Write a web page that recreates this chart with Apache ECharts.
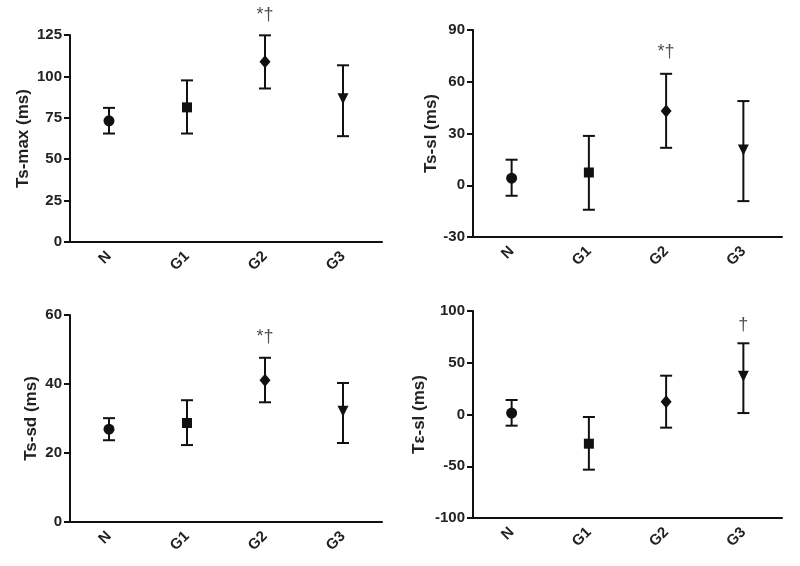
<!DOCTYPE html>
<html>
<head>
<meta charset="utf-8">
<script src="https://cdn.jsdelivr.net/npm/echarts@6/dist/echarts.min.js"></script>
<style>
  html, body { margin: 0; padding: 0; background: #fff; }
  #container { width: 800px; height: 566px; }
</style>
</head>
<body>
<div id="container"></div>
<script>
var categories = ["N", "G1", "G2", "G3"];

// Ts-max
var tsMaxMean = [73.2, 81.3, 108.9, 86.5];
var tsMaxLow = [65.5, 65.5, 92.7, 63.9];
var tsMaxHigh = [81, 97.6, 124.8, 106.7];
// Ts-sl
var tsSlMean = [4.1, 7.4, 43.1, 20.5];
var tsSlLow = [-6.1, -14.2, 21.7, -9.2];
var tsSlHigh = [14.8, 28.6, 64.6, 48.8];
// Ts-sd
var tsSdMean = [26.9, 28.7, 41.1, 32.1];
var tsSdLow = [23.7, 22.3, 34.7, 22.9];
var tsSdHigh = [30.1, 35.3, 47.6, 40.3];
// Tε-sl
var teSlMean = [1.4, -28.2, 12.4, 36.9];
var teSlLow = [-10.8, -53.3, -12.7, 1.4];
var teSlHigh = [14, -2.4, 37.5, 68.8];

// significance marks: [category index, y position, text]
var tsMaxSig = [[2, 137, "*†"]];
var tsSlSig = [[2, 77.4, "*†"]];
var tsSdSig = [[2, 53.7, "*†"]];
var teSlSig = [[3, 86.2, "†"]];

var symbols = ["circle", "rect", "diamond", "triangle"];
var symbolSizes = [11, 10, [11, 13], 11];
var symbolRotates = [0, 0, 0, 180];

var font = "Arial, 'Liberation Sans', sans-serif";

var dom = document.getElementById("container");
var myChart = echarts.init(dom, null, { renderer: "canvas" });

function errorBar(params, api) {
  var x = api.value(0);
  var lo = api.coord([x, api.value(1)]);
  var hi = api.coord([x, api.value(2)]);
  var w = 6;
  var st = { stroke: "#111", lineWidth: 2 };
  return {
    type: "group",
    children: [
      { type: "line", shape: { x1: lo[0], y1: lo[1], x2: hi[0], y2: hi[1] }, style: st },
      { type: "line", shape: { x1: hi[0] - w, y1: hi[1], x2: hi[0] + w, y2: hi[1] }, style: st },
      { type: "line", shape: { x1: lo[0] - w, y1: lo[1], x2: lo[0] + w, y2: lo[1] }, style: st },
    ],
  };
}

var panels = [
  { name: "Ts-max (ms)", mean: tsMaxMean, low: tsMaxLow, high: tsMaxHigh, sig: tsMaxSig,
    min: 0, max: 125, interval: 25, nameGap: 38,
    grid: { left: 70, top: 35, width: 312, height: 207 } },
  { name: "Ts-sl (ms)", mean: tsSlMean, low: tsSlLow, high: tsSlHigh, sig: tsSlSig,
    min: -30, max: 90, interval: 30, nameGap: 33,
    grid: { left: 473, top: 30, width: 309, height: 207 } },
  { name: "Ts-sd (ms)", mean: tsSdMean, low: tsSdLow, high: tsSdHigh, sig: tsSdSig,
    min: 0, max: 60, interval: 20, nameGap: 30,
    grid: { left: 70, top: 315, width: 312, height: 207 } },
  { name: "Tε-sl (ms)", mean: teSlMean, low: teSlLow, high: teSlHigh, sig: teSlSig,
    min: -100, max: 100, interval: 50, nameGap: 45,
    grid: { left: 473, top: 311, width: 309, height: 207 } },
];

var grids = [], xAxes = [], yAxes = [], series = [];

panels.forEach(function (p, i) {
  grids.push(p.grid);
  xAxes.push({
    type: "category",
    gridIndex: i,
    data: categories,
    boundaryGap: true,
    axisLine: { onZero: false, lineStyle: { color: "#111", width: 2 } },
    axisTick: { alignWithLabel: true, length: 6, lineStyle: { color: "#111", width: 2 } },
    axisLabel: { rotate: 45, fontSize: 15, fontWeight: "bold", color: "#222", fontFamily: font, margin: 12 },
    splitLine: { show: false },
  });
  yAxes.push({
    type: "value",
    gridIndex: i,
    min: p.min,
    max: p.max,
    interval: p.interval,
    name: p.name,
    nameLocation: "middle",
    nameGap: p.nameGap,
    nameTextStyle: { fontSize: 17, fontWeight: "bold", color: "#222", fontFamily: font },
    axisLine: { show: true, lineStyle: { color: "#111", width: 2 } },
    axisTick: { show: true, length: 6, lineStyle: { color: "#111", width: 2 } },
    axisLabel: { fontSize: 15, fontWeight: "bold", color: "#222", fontFamily: font, margin: 8 },
    splitLine: { show: false },
  });

  series.push({
    type: "custom",
    xAxisIndex: i,
    yAxisIndex: i,
    renderItem: errorBar,
    data: categories.map(function (c, k) { return [k, p.low[k], p.high[k]]; }),
    z: 2,
    silent: true,
  });
  series.push({
    type: "scatter",
    xAxisIndex: i,
    yAxisIndex: i,
    data: categories.map(function (c, k) {
      return {
        value: [k, p.mean[k]],
        symbol: symbols[k],
        symbolSize: symbolSizes[k],
        symbolRotate: symbolRotates[k],
      };
    }),
    itemStyle: { color: "#111", opacity: 1 },
    z: 3,
    silent: true,
  });
  series.push({
    type: "scatter",
    xAxisIndex: i,
    yAxisIndex: i,
    clip: false,
    symbolSize: 0,
    data: p.sig.map(function (s) { return { value: [s[0], s[1]], name: s[2] }; }),
    label: {
      show: true,
      position: "inside",
      formatter: "{b}",
      fontSize: 18,
      color: "#222",
      fontFamily: font,
    },
    silent: true,
  });
});

var option = {
  backgroundColor: "#fff",
  animation: false,
  grid: grids,
  xAxis: xAxes,
  yAxis: yAxes,
  series: series,
};

myChart.setOption(option);
window.addEventListener("resize", myChart.resize);
</script>
</body>
</html>
